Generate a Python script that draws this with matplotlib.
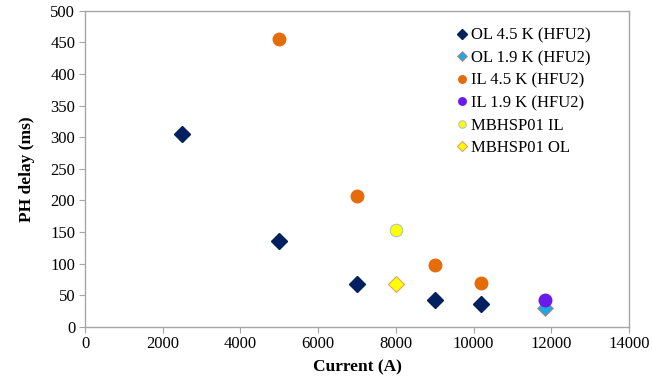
import matplotlib
matplotlib.use("Agg")
import matplotlib.pyplot as plt

plt.rcParams['font.family'] = ['Liberation Serif', 'DejaVu Serif']

ol45_x = [2500, 5000, 7000, 9000, 10200]
ol45_y = [305, 136, 68, 43, 36]
ol19_x = [11850]
ol19_y = [30]
il45_x = [5000, 7000, 9000, 10200]
il45_y = [455, 207, 97, 69]
il19_x = [11850]
il19_y = [43]
mb_il_x = [8000]
mb_il_y = [153]
mb_ol_x = [8000]
mb_ol_y = [68]

fig = plt.figure(figsize=(6.52, 3.81), dpi=100)
ax = fig.add_axes([0.1304, 0.1425, 0.8343, 0.8294])

ax.plot(ol45_x, ol45_y, 'D', color='#002060', markersize=8.5, markeredgecolor='#002060', label='OL 4.5 K (HFU2)', zorder=3)
ax.plot(ol19_x, ol19_y, 'D', color='#1FA7DF', markersize=8.5, markeredgecolor='#D08070', markeredgewidth=0.6, label='OL 1.9 K (HFU2)', zorder=3)
ax.plot(il45_x, il45_y, 'o', color='#E46C0A', markersize=9, markeredgecolor='#E46C0A', label='IL 4.5 K (HFU2)', zorder=3)
ax.plot(il19_x, il19_y, 'o', color='#6A1BE8', markersize=9, markeredgecolor='#6A1BE8', label='IL 1.9 K (HFU2)', zorder=4)
ax.plot(mb_il_x, mb_il_y, 'o', color='#FFFF00', markersize=9, markeredgecolor='#A8C8C8', markeredgewidth=0.8, label='MBHSP01 IL', zorder=3)
ax.plot(mb_ol_x, mb_ol_y, 'D', color='#FFFF00', markersize=8.5, markeredgecolor='#E8A060', markeredgewidth=0.8, label='MBHSP01 OL', zorder=3)

ax.set_xlim(0, 14000)
ax.set_ylim(0, 500)
ax.set_xticks(range(0, 14001, 2000))
ax.set_yticks(range(0, 501, 50))
for s in ax.spines.values():
    s.set_color('#A6A6A6')
    s.set_linewidth(1.0)
ax.tick_params(axis='both', direction='out', length=4, color='#A6A6A6', labelsize=12, pad=3)

ax.set_xlabel('Current (A)', fontsize=12.5, fontweight='bold', labelpad=5)
ax.set_ylabel('PH delay (ms)', fontsize=12.5, fontweight='bold', labelpad=11)

leg = ax.legend(loc='upper left', bbox_to_anchor=(0.66, 0.988), frameon=False,
                fontsize=12, markerscale=0.6, handlelength=0.6, handletextpad=0.2,
                labelspacing=0.39, borderpad=0.3)

fig.savefig('out.png', dpi=100)
